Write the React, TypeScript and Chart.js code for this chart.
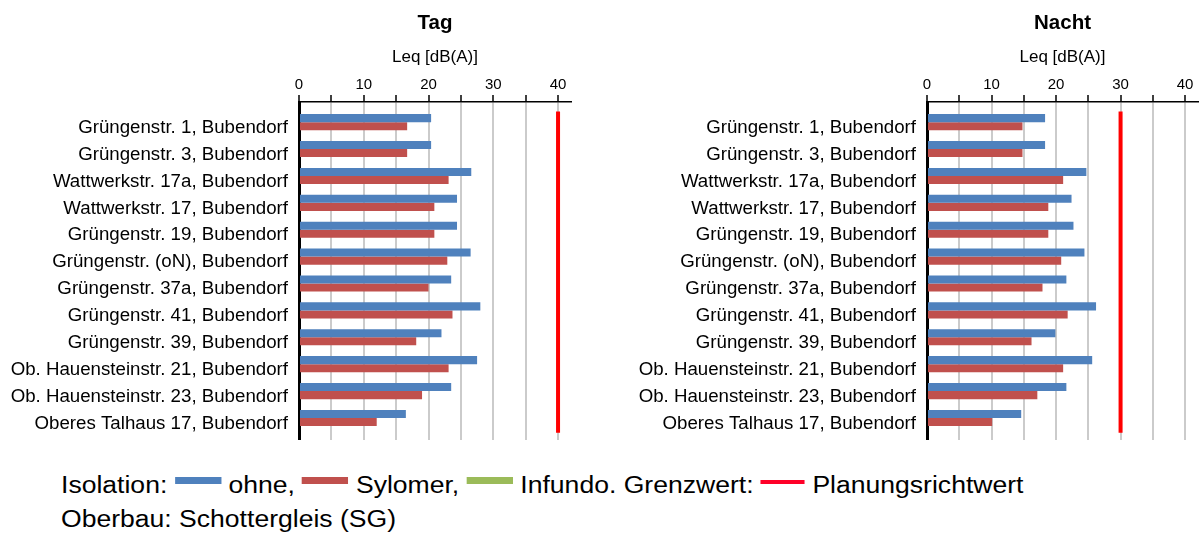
import React, { useEffect, useRef } from 'react';
import { Chart, registerables } from 'chart.js';

Chart.register(...registerables);

const categories = [
  'Grüngenstr. 1, Bubendorf',
  'Grüngenstr. 3, Bubendorf',
  'Wattwerkstr. 17a, Bubendorf',
  'Wattwerkstr. 17, Bubendorf',
  'Grüngenstr. 19, Bubendorf',
  'Grüngenstr. (oN), Bubendorf',
  'Grüngenstr. 37a, Bubendorf',
  'Grüngenstr. 41, Bubendorf',
  'Grüngenstr. 39, Bubendorf',
  'Ob. Hauensteinstr. 21, Bubendorf',
  'Ob. Hauensteinstr. 23, Bubendorf',
  'Oberes Talhaus 17, Bubendorf',
];

const tagOhne = [20.4, 20.4, 26.6, 24.4, 24.4, 26.5, 23.5, 28.0, 22.0, 27.5, 23.5, 16.5];
const tagSylomer = [16.7, 16.7, 23.1, 20.9, 20.9, 22.9, 20.0, 23.7, 18.1, 23.1, 19.0, 12.0];
const nachtOhne = [18.3, 18.3, 24.7, 22.4, 22.7, 24.4, 21.6, 26.2, 19.9, 25.6, 21.6, 14.6];
const nachtSylomer = [14.8, 14.8, 21.1, 18.8, 18.8, 20.8, 17.9, 21.8, 16.2, 21.1, 17.1, 10.1];
const infundo: (number | null)[] = [null, null, null, null, null, null, null, null, null, null, null, null];

const tagLimit = 40;
const nachtLimit = 30;

const xTickValues = [0, 5, 10, 15, 20, 25, 30, 35, 40];
const xAxisMax = 42;

const FONT = 'Arial, "Liberation Sans", sans-serif';
const BLUE = '#4F81BD';
const RED = '#C0504D';
const GREEN = '#9BBB59';
const LIMIT_RED = '#FF0000';

const panelTitlePlugin = {
  id: 'panelTitle',
  afterDraw(chart: any, _args: any, opts: any) {
    const { ctx, chartArea } = chart;
    ctx.save();
    ctx.font = `bold 20.5px ${FONT}`;
    ctx.fillStyle = '#000';
    ctx.textAlign = 'center';
    ctx.textBaseline = 'middle';
    ctx.fillText(opts.text, (chartArea.left + chartArea.right) / 2, 23);
    ctx.restore();
  },
};

function makeConfig(title: string, ohne: number[], sylomer: number[], limit: number, axisWidth: number, padRight: number): any {
  return {
    type: 'bar',
    data: {
      datasets: [
        {
          label: 'ohne',
          data: categories.map((_, i) => ({ x: ohne[i], y: i })),
          backgroundColor: BLUE,
          borderWidth: 0,
        },
        {
          label: 'Sylomer',
          data: categories.map((_, i) => ({ x: sylomer[i], y: i })),
          backgroundColor: RED,
          borderWidth: 0,
        },
        {
          label: 'Infundo.',
          data: categories.map((_, i) => ({ x: infundo[i], y: i })),
          backgroundColor: GREEN,
          borderWidth: 0,
        },
        {
          type: 'line',
          label: 'Planungsrichtwert',
          data: [
            { x: limit, y: -0.55 },
            { x: limit, y: categories.length - 0.6 },
          ],
          borderColor: LIMIT_RED,
          borderWidth: 4,
          borderCapStyle: 'butt',
          pointRadius: 0,
          fill: false,
        },
      ],
    },
    options: {
      indexAxis: 'y',
      responsive: false,
      animation: false,
      layout: { padding: { top: 40, right: padRight, bottom: 0, left: 0 } },
      datasets: { bar: { categoryPercentage: 0.9, barPercentage: 1 } },
      plugins: {
        legend: { display: false },
        tooltip: { enabled: false },
        title: { display: false },
        panelTitle: { text: title },
      },
      scales: {
        x: {
          type: 'linear',
          position: 'top',
          min: 0,
          max: xAxisMax,
          offset: false,
          afterBuildTicks: (a: any) => {
            a.ticks = xTickValues.map((v) => ({ value: v }));
          },
          afterFit: (a: any) => {
            a.height = 62;
            a.paddingLeft = 0;
            a.paddingRight = 0;
          },
          ticks: {
            callback: (v: any) => (Number(v) % 10 === 0 ? String(v) : ''),
            font: { family: FONT, size: 15 },
            color: '#000',
            padding: 1,
            maxRotation: 0,
            autoSkip: false,
          },
          grid: { color: '#cbcbcb', lineWidth: 2, tickColor: '#000', tickWidth: 1.5, tickLength: 7, offset: false },
          border: { color: '#000', width: 1.5 },
          title: {
            display: true,
            text: 'Leq [dB(A)]',
            font: { family: FONT, size: 17 },
            color: '#000',
            padding: { top: 7, bottom: 0 },
          },
        },
        y: {
          type: 'linear',
          reverse: true,
          offset: false,
          min: -0.9,
          max: 11.67,
          afterBuildTicks: (a: any) => {
            a.ticks = categories.map((_, i) => ({ value: i }));
          },
          afterFit: (a: any) => {
            a.width = axisWidth;
            a.paddingTop = 0;
            a.paddingBottom = 0;
          },
          ticks: {
            callback: (v: any) => categories[Number(v)] ?? '',
            font: { family: FONT, size: 18.7 },
            color: '#000',
            padding: 11,
            labelOffset: 1.5,
            autoSkip: false,
          },
          grid: { display: false, drawTicks: false, offset: false },
          border: { color: '#000', width: 3 },
        },
      },
    },
    plugins: [panelTitlePlugin],
  };
}

function Panel(props: { left: number; width: number; title: string; ohne: number[]; sylomer: number[]; limit: number; axisWidth: number; padRight: number }) {
  const ref = useRef<HTMLCanvasElement | null>(null);
  useEffect(() => {
    if (!ref.current) return;
    const chart = new Chart(ref.current, makeConfig(props.title, props.ohne, props.sylomer, props.limit, props.axisWidth, props.padRight));
    return () => chart.destroy();
  }, []);
  return (
    <canvas
      ref={ref}
      width={props.width}
      height={440}
      style={{ position: 'absolute', left: props.left, top: 0, width: props.width, height: 440 }}
    />
  );
}

const swatch = (color: string): React.CSSProperties => ({
  display: 'inline-block',
  width: 41,
  height: 7,
  background: color,
  verticalAlign: '9px',
});

export default function App() {
  return (
    <div
      style={{
        position: 'absolute',
        left: 0,
        top: 0,
        width: 1201,
        height: 537,
        background: '#fff',
        overflow: 'hidden',
        fontFamily: FONT,
      }}
    >
      <Panel left={0} width={600} title="Tag" ohne={tagOhne} sylomer={tagSylomer} limit={tagLimit} axisWidth={299} padRight={29} />
      <Panel left={600} width={601} title="Nacht" ohne={nachtOhne} sylomer={nachtSylomer} limit={nachtLimit} axisWidth={327} padRight={3} />
      <div
        style={{
          position: 'absolute',
          left: 61,
          top: 468,
          fontSize: 23.5,
          lineHeight: '34px',
          color: '#000',
          whiteSpace: 'nowrap',
          transform: 'scaleX(1.13)',
          transformOrigin: '0 0',
        }}
      >
        <div>
          Isolation:{' '}
          <span style={swatch(BLUE)} /> ohne,{' '}
          <span style={swatch(RED)} /> Sylomer,{' '}
          <span style={swatch(GREEN)} /> Infundo. Grenzwert:{' '}
          <span style={{ display: 'inline-block', width: 39, height: 4.5, background: '#FF0028', verticalAlign: '8.7px' }} />{' '}
          Planungsrichtwert
        </div>
        <div>Oberbau: Schottergleis (SG)</div>
      </div>
    </div>
  );
}
